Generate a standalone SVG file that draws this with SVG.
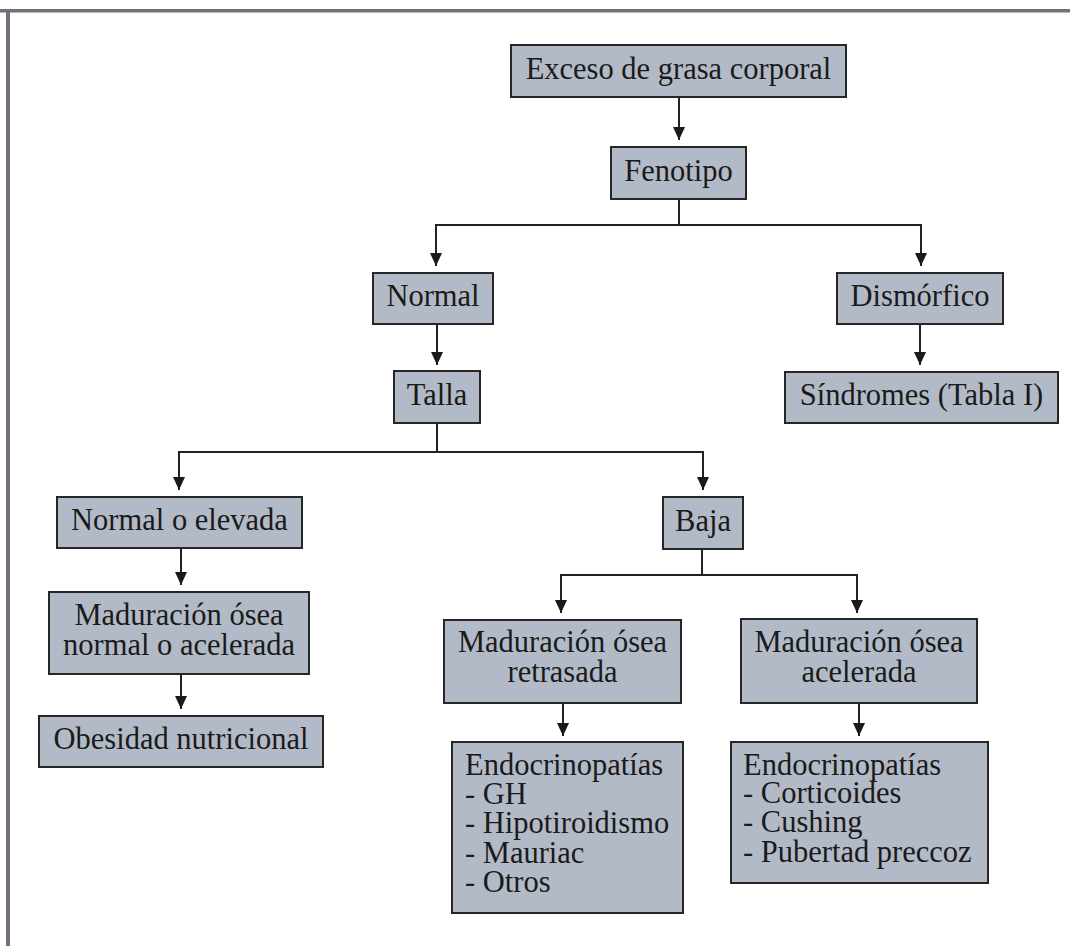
<svg xmlns="http://www.w3.org/2000/svg" width="1070" height="946" viewBox="0 0 1070 946">
<style>
.box{fill:#b3bac7;stroke:#262626;stroke-width:2}
.t{font-family:"Liberation Serif","Times New Roman",serif;font-size:30.5px;fill:#1a1a1a}
.c{text-anchor:middle}
.ln{fill:none;stroke:#222;stroke-width:2}
</style>
<defs>
<marker id="ah" markerUnits="userSpaceOnUse" markerWidth="14" markerHeight="13" refX="13" refY="6.5" orient="auto" viewBox="0 0 14 13">
<path d="M0,0.5 L13,6.5 L0,12.5 z" fill="#1a1a1a"/>
</marker>
</defs>
<rect x="0" y="0" width="1070" height="946" fill="#fff"/>
<g id="frame">
<rect x="0" y="9" width="1070" height="3.5" fill="#6e727a"/>
<rect x="6" y="9" width="4" height="937" fill="#6e727a"/>
</g>
<g id="connectors">
<path class="ln" d="M679,97 V140" marker-end="url(#ah)"/>
<path class="ln" d="M679,199 V225 H436 V266" marker-end="url(#ah)"/>
<path class="ln" d="M679,225 H921 V266" marker-end="url(#ah)"/>
<path class="ln" d="M437,324 V365" marker-end="url(#ah)"/>
<path class="ln" d="M920,324 V365" marker-end="url(#ah)"/>
<path class="ln" d="M437,423 V452 H179 V490" marker-end="url(#ah)"/>
<path class="ln" d="M437,452 H703 V490" marker-end="url(#ah)"/>
<path class="ln" d="M181,548 V585" marker-end="url(#ah)"/>
<path class="ln" d="M181,674 V709" marker-end="url(#ah)"/>
<path class="ln" d="M702,549 V575 H561 V613" marker-end="url(#ah)"/>
<path class="ln" d="M702,575 H857 V613" marker-end="url(#ah)"/>
<path class="ln" d="M563,703 V736" marker-end="url(#ah)"/>
<path class="ln" d="M859,703 V736" marker-end="url(#ah)"/>
</g>
<g id="n-exceso"><rect class="box" x="511" y="45" width="335" height="52"/><text class="t c" x="678.5" y="79">Exceso de grasa corporal</text></g>
<g id="n-fenotipo"><rect class="box" x="611" y="147" width="135" height="52"/><text class="t c" x="678.5" y="181">Fenotipo</text></g>
<g id="n-normal"><rect class="box" x="373" y="273" width="120" height="51"/><text class="t c" x="433" y="306">Normal</text></g>
<g id="n-dismorfico"><rect class="box" x="837" y="273" width="166" height="51"/><text class="t c" x="920" y="306">Dismórfico</text></g>
<g id="n-talla"><rect class="box" x="394" y="371" width="86" height="52"/><text class="t c" x="437" y="405">Talla</text></g>
<g id="n-sindromes"><rect class="box" x="785" y="372" width="273" height="51"/><text class="t c" x="921.5" y="405">Síndromes (Tabla I)</text></g>
<g id="n-normal-elevada"><rect class="box" x="57" y="497" width="245" height="51"/><text class="t c" x="179.5" y="530">Normal o elevada</text></g>
<g id="n-baja"><rect class="box" x="663" y="497" width="80" height="52"/><text class="t c" x="703" y="531">Baja</text></g>
<g id="n-mad-normal"><rect class="box" x="49" y="592" width="260" height="82"/><text class="t c"><tspan x="179" y="625">Maduración ósea</tspan><tspan x="179" y="655">normal o acelerada</tspan></text></g>
<g id="n-obesidad"><rect class="box" x="39" y="716" width="284" height="51"/><text class="t c" x="181" y="749">Obesidad nutricional</text></g>
<g id="n-mad-retrasada"><rect class="box" x="444" y="620" width="237" height="83"/><text class="t c"><tspan x="562.5" y="652">Maduración ósea</tspan><tspan x="562.5" y="682">retrasada</tspan></text></g>
<g id="n-mad-acelerada"><rect class="box" x="741" y="619" width="236" height="84"/><text class="t c"><tspan x="859" y="652">Maduración ósea</tspan><tspan x="859" y="682">acelerada</tspan></text></g>
<g id="n-endo-retrasada"><rect class="box" x="452" y="742" width="231" height="171"/>
<text class="t"><tspan x="465" y="775">Endocrinopatías</tspan><tspan x="465" y="804">- GH</tspan><tspan x="465" y="833">- Hipotiroidismo</tspan><tspan x="465" y="863">- Mauriac</tspan><tspan x="465" y="892">- Otros</tspan></text></g>
<g id="n-endo-acelerada"><rect class="box" x="731" y="742" width="257" height="141"/>
<text class="t"><tspan x="743" y="775">Endocrinopatías</tspan><tspan x="743" y="803">- Corticoides</tspan><tspan x="743" y="832">- Cushing</tspan><tspan x="743" y="862">- Pubertad preccoz</tspan></text></g>
</svg>
